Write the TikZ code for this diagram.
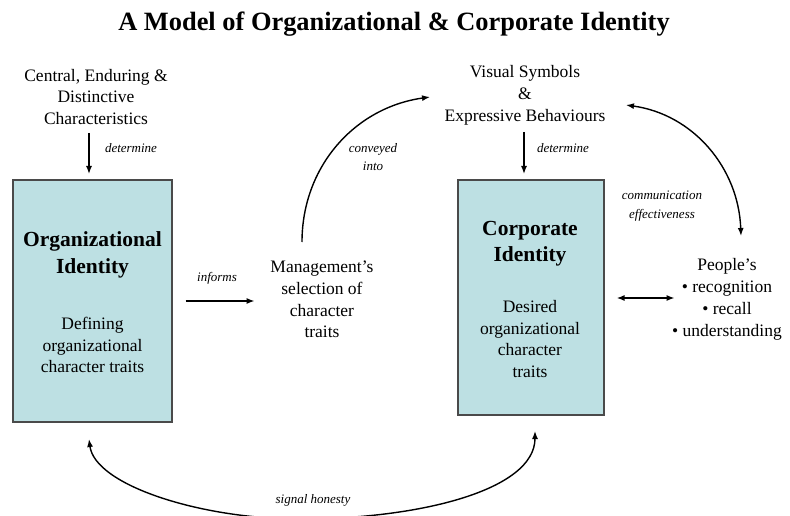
\documentclass[tikz,border=0pt]{standalone}
\usepackage{fontspec}
\setmainfont{Liberation Serif}
\usetikzlibrary{arrows.meta}
\definecolor{boxfill}{HTML}{BDE0E3}
\definecolor{boxline}{HTML}{4A4A4A}
\tikzset{
  body/.style={align=center,font=\fontsize{17.5}{21.8}\selectfont,inner sep=1pt},
  boxtitle/.style={align=center,font=\fontsize{21.5}{26.5}\selectfont\bfseries,inner sep=1pt},
  lbl/.style={align=center,font=\fontsize{13}{18.5}\selectfont\itshape,inner sep=1pt},
  idbox/.style={draw=boxline,fill=boxfill,line width=1.2pt,inner sep=0pt},
  arr/.style={line width=1.4pt,-{Latex[length=8pt,width=6pt]}},
  darr/.style={line width=1.4pt,{Latex[length=8pt,width=6pt]}-{Latex[length=8pt,width=6pt]}}
}
\begin{document}
\begin{tikzpicture}[x=1pt,y=-1pt]
\useasboundingbox (0,0) rectangle (790,516);
\clip (0,0) rectangle (790,516);
% title
\node[font=\fontsize{26.4}{30}\selectfont\bfseries] (title) at (394,24) {A Model of Organizational \& Corporate Identity};
% top texts
\node[body] (cedc) at (96,97) {Central, Enduring \&\\Distinctive\\Characteristics};
\node[body] (vis) at (525,95) {Visual Symbols\\\&\\Expressive Behaviours};
% boxes
\node[idbox,minimum width=159pt,minimum height=242pt] (org) at (92.5,301) {};
\node[idbox,minimum width=146pt,minimum height=235pt] (corp) at (531,297.5) {};
\node[boxtitle] (orgt) at (92.5,255) {Organizational\\Identity};
\node[body] (orgs) at (92.5,345) {Defining\\organizational\\character traits};
\node[boxtitle] (corpt) at (530,243.5) {Corporate\\Identity};
\node[body] (corps) at (530,339) {Desired\\organizational\\character\\traits};
% middle and right texts
\node[body] (mgmt) at (322,299.5) {Management's\\selection of\\character\\traits};
\node[body] (ppl) at (727,299.5) {People's\\\textbullet\ recognition\\\textbullet\ recall\\\textbullet\ understanding};
% coordinates for curve ends
\coordinate (convS) at (302,242);
\coordinate (convE) at (430,97);
\coordinate (commS) at (626,105);
\coordinate (commE) at (741,236);
\coordinate (sigL) at (89,439);
\coordinate (sigR) at (535,431);
% arrows
\draw[arr] (89,133) coordinate (d1s) -- (89,174) coordinate (d1e);
\draw[arr] (524,132) coordinate (d2s) -- (524,174) coordinate (d2e);
\draw[arr] ([xshift=13pt]org.east) -- ([xshift=82pt]org.east);
\draw[darr] ([xshift=12pt,yshift=-0.5pt]corp.east) -- ([xshift=70pt,yshift=-0.5pt]corp.east);
\draw[arr] (convS) to[out=90,in=188] (convE);
\draw[darr] (commS) to[out=-8,in=92] (commE);
\draw[darr] (sigL) .. controls (95,485) and (200,519) .. (300,519) .. controls (420,519) and (535,490) .. (sigR);
% labels
\node[lbl] (lblA) at (131,148) {determine};
\node[lbl] (lblB) at (563,148) {determine};
\node[lbl] (lblC) at (217,278) {informs};
\node[lbl] (lblD) at (373,157) {conveyed\\into};
\node[lbl] (lblE) at (662,206) {communication\\effectiveness};
\node[lbl] (lblF) at (313,500) {signal honesty};
\end{tikzpicture}
\end{document}
